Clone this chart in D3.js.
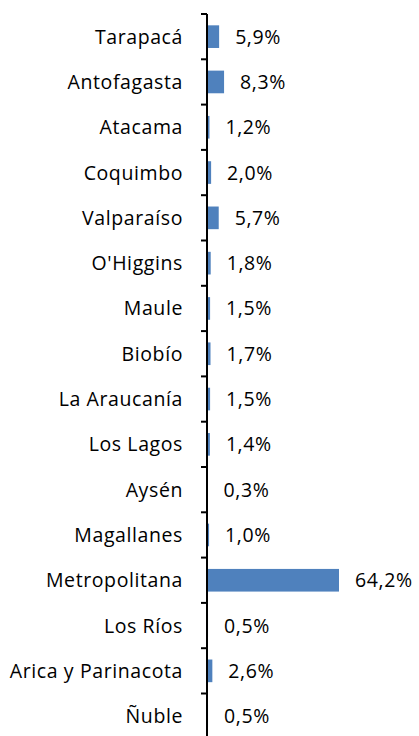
<!DOCTYPE html>
<html>
<head>
<meta charset="utf-8">
<script src="https://cdn.jsdelivr.net/npm/d3@7"></script>
<style>
    body { margin: 0; background: #fff; }
    svg text { font-family: "Open Sans", "Noto Sans", sans-serif; fill: #000; letter-spacing: 0.6px; }
</style>
</head>
<body>
<svg id="chart" width="419" height="736"></svg>
<script>
// regiones y porcentaje
const regions = ['Tarapacá', 'Antofagasta', 'Atacama', 'Coquimbo', 'Valparaíso', "O'Higgins", 'Maule',
    'Biobío', 'La Araucanía', 'Los Lagos', 'Aysén', 'Magallanes', 'Metropolitana', 'Los Ríos',
    'Arica y Parinacota', 'Ñuble']
const shares = [5.9, 8.3, 1.2, 2.0, 5.7, 1.8, 1.5, 1.7, 1.5, 1.4, 0.3, 1.0, 64.2, 0.5, 2.6, 0.5]

const svg = d3.select('#chart')
const axisX = 207
const axisTop = 14
const step = 45.3
const fontSize = 19.5

const y = d3.scaleBand()
    .domain(regions)
    .range([axisTop, axisTop + step * regions.length])
    .paddingInner(0.5)
    .paddingOuter(0.25)

const x = d3.scaleLinear()
    .domain([0, 64.2])
    .range([axisX, axisX + 132])

// barras
svg.append('g')
    .selectAll('rect')
    .data(regions)
    .join('rect')
    .attr('x', axisX)
    .attr('y', d => y(d))
    .attr('width', (d, i) => x(shares[i]) - axisX)
    .attr('height', y.bandwidth())
    .attr('fill', '#4f81bd')

// eje
const yAxis = d3.axisLeft(y).tickSize(0).tickPadding(24)
const g = svg.append('g')
    .attr('transform', `translate(${axisX},0)`)
    .call(yAxis)
g.select('.domain').remove()
g.selectAll('text')
    .attr('font-size', fontSize)
    .attr('dy', '0.36em')
    .style('font-family', '"Open Sans", "Noto Sans", sans-serif')

// marcas entre categorías
const bounds = d3.range(regions.length + 1).map(i => axisTop + step * i)
svg.append('g')
    .selectAll('line')
    .data(bounds)
    .join('line')
    .attr('x1', axisX - 6)
    .attr('x2', axisX)
    .attr('y1', d => d)
    .attr('y2', d => d)
    .attr('stroke', '#000')
    .attr('stroke-width', 2)

svg.append('line')
    .attr('x1', axisX)
    .attr('x2', axisX)
    .attr('y1', axisTop)
    .attr('y2', axisTop + step * regions.length)
    .attr('stroke', '#000')
    .attr('stroke-width', 2)

// etiquetas de valor
svg.append('g')
    .selectAll('text')
    .data(regions)
    .join('text')
    .attr('x', (d, i) => x(shares[i]) + 16)
    .attr('y', d => y(d) + y.bandwidth() / 2)
    .attr('dy', '0.36em')
    .attr('font-size', fontSize)
    .text((d, i) => d3.format('.1f')(shares[i]).replace('.', ',') + '%')
</script>
</body>
</html>
